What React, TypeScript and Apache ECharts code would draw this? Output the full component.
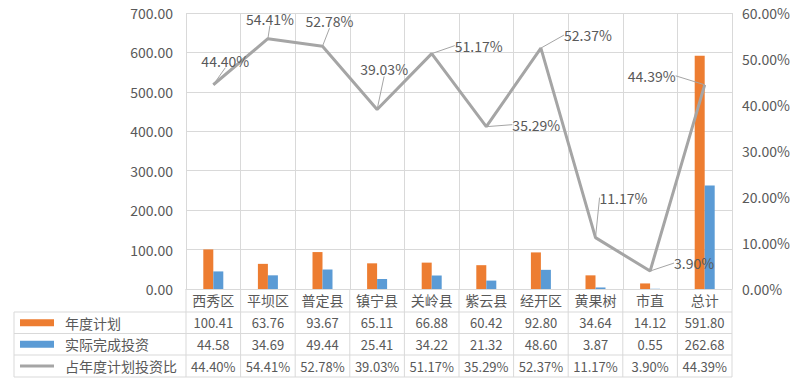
import React, { useEffect, useRef } from "react";
import * as echarts from "echarts";

const categories = ["西秀区", "平坝区", "普定县", "镇宁县", "关岭县", "紫云县", "经开区", "黄果树", "市直", "总计"];
const annualPlan = [100.41, 63.76, 93.67, 65.11, 66.88, 60.42, 92.8, 34.64, 14.12, 591.8];
const actualInvest = [44.58, 34.69, 49.44, 25.41, 34.22, 21.32, 48.6, 3.87, 0.55, 262.68];
const ratioPct = [44.4, 54.41, 52.78, 39.03, 51.17, 35.29, 52.37, 11.17, 3.9, 44.39];
const seriesNames = ["年度计划", "实际完成投资", "占年度计划投资比"];
const leftTicks = [0, 700, 100];
const rightTicks = [0, 60, 10];

// label offsets (layout only)
const labelOffsets: [number, number][] = [
  [12, -12], [2, -8], [7, -13], [7, -28], [47, 4], [50, 10], [47, -1], [28, -28], [44, 4], [-53, 3],
];

const W = 800;
const H = 383;
const gridLeft = 186;
const gridRight = 732;
const gridTop = 13;
const gridBottom = 289;
const rowLines = [312, 333.5, 355, 377];
const tableLeft = 14;
const FONT = "'Noto Sans CJK SC', 'Noto Sans', sans-serif";
const TXT = "#595959";
const LINEC = "#d9d9d9";

export default function App() {
  const ref = useRef<HTMLDivElement>(null);
  useEffect(() => {
    document.body.style.margin = "0";
    if (!ref.current) return;
    const chart = echarts.init(ref.current, null, { renderer: "svg" });
    const catW = (gridRight - gridLeft) / categories.length;
    const graphics: any[] = [];
    rowLines.forEach((y) => {
      graphics.push({
        type: "line",
        shape: { x1: tableLeft, y1: y, x2: gridRight, y2: y },
        style: { stroke: LINEC, lineWidth: 1 },
        silent: true,
      });
    });
    graphics.push({
      type: "line",
      shape: { x1: tableLeft, y1: rowLines[0], x2: tableLeft, y2: rowLines[3] },
      style: { stroke: LINEC, lineWidth: 1 },
    });
    for (let i = 0; i <= categories.length; i++) {
      const x = gridLeft + i * catW;
      graphics.push({
        type: "line",
        shape: { x1: x, y1: gridBottom, x2: x, y2: rowLines[3] },
        style: { stroke: LINEC, lineWidth: 1 },
      });
    }
    const rows = [
      annualPlan.map((v) => v.toFixed(2)),
      actualInvest.map((v) => v.toFixed(2)),
      ratioPct.map((v) => v.toFixed(2) + "%"),
    ];
    rows.forEach((row, r) => {
      const yc = (rowLines[r] + rowLines[r + 1]) / 2;
      row.forEach((t, i) => {
        graphics.push({
          type: "text",
          x: gridLeft + (i + 0.5) * catW,
          y: yc,
          style: {
            text: t,
            fill: TXT,
            font: `13px ${FONT}`,
            textAlign: "center",
            textVerticalAlign: "middle",
          },
        });
      });
    });
    const keyColors = ["#ed7d31", "#5b9bd5", "#a5a5a5"];
    seriesNames.forEach((name, r) => {
      const yc = (rowLines[r] + rowLines[r + 1]) / 2;
      if (r < 2) {
        graphics.push({
          type: "rect",
          shape: { x: 20, y: yc - 3.5, width: 34, height: 7 },
          style: { fill: keyColors[r] },
        });
      } else {
        graphics.push({
          type: "line",
          shape: { x1: 20, y1: yc, x2: 54, y2: yc },
          style: { stroke: keyColors[r], lineWidth: 3 },
        });
      }
      graphics.push({
        type: "text",
        x: 65,
        y: yc,
        style: {
          text: name,
          fill: TXT,
          font: `14px ${FONT}`,
          textAlign: "left",
          textVerticalAlign: "middle",
        },
      });
    });

    chart.setOption({
      animation: false,
      backgroundColor: "#ffffff",
      textStyle: { fontFamily: FONT },
      grid: {
        left: gridLeft,
        right: W - gridRight,
        top: gridTop,
        bottom: H - gridBottom,
        containLabel: false,
      },
      xAxis: {
        type: "category",
        data: categories,
        boundaryGap: true,
        axisLine: { show: true, lineStyle: { color: LINEC } },
        axisTick: { show: false },
        splitLine: { show: true, lineStyle: { color: LINEC } },
        axisLabel: { color: TXT, fontSize: 14, margin: 4, interval: 0 },
      },
      yAxis: [
        {
          type: "value",
          min: leftTicks[0],
          max: leftTicks[1],
          interval: leftTicks[2],
          axisLine: { show: false },
          axisTick: { show: false },
          splitLine: { show: true, lineStyle: { color: LINEC } },
          axisLabel: { color: TXT, fontSize: 14, margin: 13, formatter: (v: number) => v.toFixed(2) },
        },
        {
          type: "value",
          min: rightTicks[0],
          max: rightTicks[1],
          interval: rightTicks[2],
          axisLine: { show: false },
          axisTick: { show: false },
          splitLine: { show: false },
          axisLabel: { color: TXT, fontSize: 14, margin: 10, formatter: (v: number) => v.toFixed(2) + "%" },
        },
      ],
      series: [
        {
          name: seriesNames[0],
          type: "bar",
          data: annualPlan,
          barWidth: 10,
          barGap: "0%",
          itemStyle: { color: "#ed7d31" },
        },
        {
          name: seriesNames[1],
          type: "bar",
          data: actualInvest,
          barWidth: 10,
          barGap: "0%",
          itemStyle: { color: "#5b9bd5" },
        },
        {
          name: seriesNames[2],
          type: "line",
          yAxisIndex: 1,
          data: ratioPct,
          symbol: "circle",
          symbolSize: 0.01,
          showSymbol: true,
          lineStyle: { color: "#a5a5a5", width: 3 },
          itemStyle: { color: "#a5a5a5" },
          label: {
            show: true,
            position: "top",
            distance: 5,
            color: TXT,
            fontSize: 14,
            formatter: (p: any) => p.value.toFixed(2) + "%",
          },
          labelLine: { show: true, lineStyle: { color: "#a5a5a5", width: 1 } },
          labelLayout: (p: any) => {
            const o = labelOffsets[p.dataIndex];
            return { dx: o[0], dy: o[1] };
          },
        },
      ],
      graphic: graphics,
    });
    return () => chart.dispose();
  }, []);
  return <div ref={ref} style={{ width: W, height: H }} />;
}
